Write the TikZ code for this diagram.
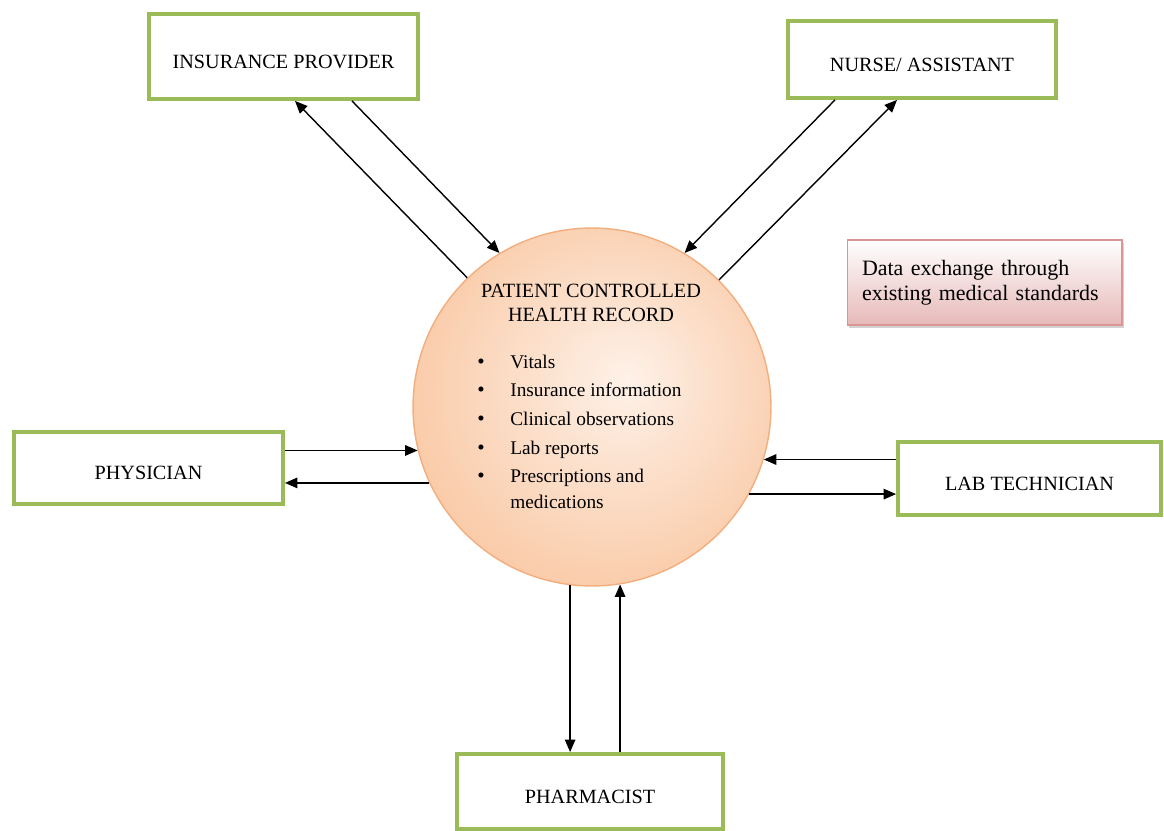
\documentclass[tikz,border=0pt]{standalone}
\usepackage{fontspec}
\setmainfont{Liberation Serif}
\usetikzlibrary{arrows.meta,calc,shadows}
\definecolor{boxGreen}{HTML}{9BBB59}
\definecolor{peachLight}{HTML}{FEF1E8}
\definecolor{peachDark}{HTML}{F9C7A2}
\definecolor{peachLine}{HTML}{F2AE7E}
\definecolor{noteRed}{HTML}{E6B9B8}
\definecolor{noteLine}{HTML}{D99694}
\pgfdeclareradialshading{peachShading}{\pgfpoint{5bp}{4bp}}{%
  color(0bp)=(peachLight); color(31bp)=(peachDark); color(50bp)=(peachDark)}
\newcommand{\actorBox}[5]{%%
  \node[actorStyle,minimum width=#3,minimum height=#4] (#1) at (#2) {#5};
}
\newcommand{\bulletItem}[1]{\makebox[0.66cm][l]{\large\textbullet}#1}

\begin{document}
\begin{tikzpicture}[%%
  x=0.02cm,y=-0.02cm,%%
  actorStyle/.style={draw=boxGreen,line width=2.2pt,fill=white,inner sep=0pt,%%
    text height=0.47cm,text depth=0pt,font=\fontsize{11.5}{14}\selectfont},%%
  recordStyle/.style={circle,draw=peachLine,line width=0.8pt,shading=peachShading,%%
    minimum size=7.16cm,inner sep=0pt},%%
  titleStyle/.style={anchor=base,align=center,inner sep=0pt,font=\fontsize{11.5}{13.7}\selectfont},%%
  listStyle/.style={anchor=base west,align=left,inner sep=0pt,font=\fontsize{11}{16.3}\selectfont},%%
  noteStyle/.style={draw=noteLine,line width=0.6pt,top color=white,bottom color=noteRed,%%
    drop shadow={shadow xshift=1.2pt,shadow yshift=-1.5pt,fill=black!35},%%
    minimum width=5.5cm,minimum height=1.7cm,text width=4.9cm,align=left,%%
    font=\fontsize{12.5}{14.2}\selectfont},%%
  arrowStyle/.style={-{Triangle[length=2.5mm,width=2.1mm]},line width=0.8pt}
]
\useasboundingbox (0,0) rectangle (1164,831);
%%
%% The health record in the middle.
\node[recordStyle] (rec) at (592,407) {};
\node[titleStyle] (title) at (591,322) {PATIENT CONTROLLED\\HEALTH RECORD};
\node[listStyle] (items) at (477,508) {%%
  \bulletItem{Vitals}\\
  \bulletItem{Insurance information}\\
  \bulletItem{Clinical observations}\\
  \bulletItem{Lab reports}\\
  \bulletItem{Prescriptions and}\\[-2pt]
  \hspace*{0.66cm}medications};
%%
%% The people round it.
\actorBox{ins}{283.5,56.5}{5.38cm}{1.70cm}{INSURANCE PROVIDER}
\actorBox{nur}{922,59.5}{5.36cm}{1.54cm}{NURSE/ ASSISTANT}
\actorBox{phy}{148.5,468}{5.38cm}{1.44cm}{PHYSICIAN}
\actorBox{lab}{1029.5,478.5}{5.26cm}{1.46cm}{LAB TECHNICIAN}
\actorBox{pha}{590,791.5}{5.32cm}{1.50cm}{PHARMACIST}
%%
%% The note.
\node[noteStyle] (note) at (984.5,282.5) {Data exchange through\\existing medical standards};
%%
%% The exchanges.
\draw[arrowStyle] (rec.134) -- ($(ins.south)+(11.5,0)$);
\draw[arrowStyle] ($(ins.south)+(68.5,0)$) -- (rec.121);
\draw[arrowStyle] ($(nur.south)+(-87,0)$) -- (rec.59);
\draw[arrowStyle] (rec.45) -- ($(nur.south)+(-25,0)$);
\draw[arrowStyle] (rec.194 -| phy.east) -- (rec.194);
\draw[arrowStyle] (rec.205) -- (rec.205 -| phy.east);
\draw[arrowStyle] (rec.343 -| lab.west) -- (rec.343);
\draw[arrowStyle] (rec.331) -- (rec.331 -| lab.west);
\draw[arrowStyle] (rec.263) -- (rec.263 |- pha.north);
\draw[arrowStyle] (rec.279 |- pha.north) -- (rec.279);
\end{tikzpicture}
\end{document}
